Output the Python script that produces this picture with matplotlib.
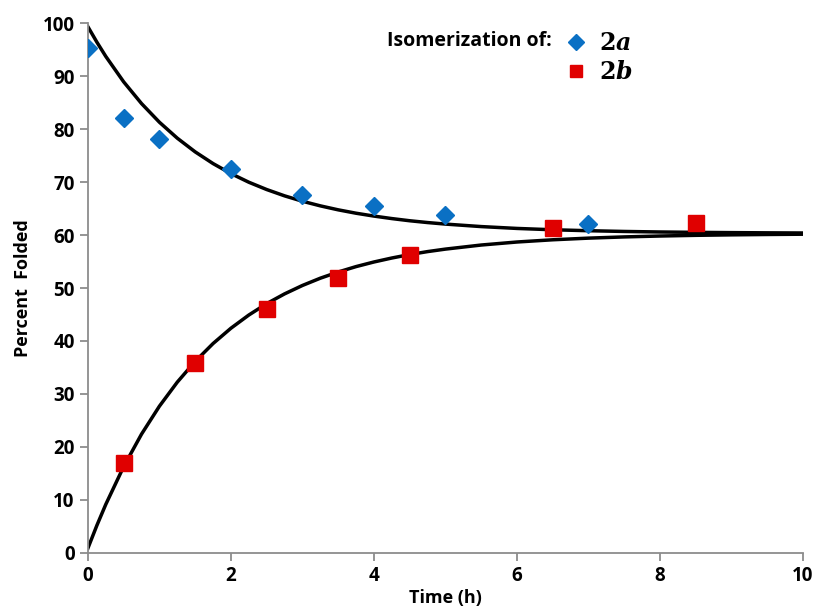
import matplotlib
matplotlib.use("Agg")
import matplotlib.pyplot as plt

# measured points
time_2a = [0, 0.5, 1, 2, 3, 4, 5, 7]
folded_2a = [95.3, 82.0, 78.2, 72.5, 67.6, 65.4, 63.7, 62.1]
time_2b = [0.5, 1.5, 2.5, 3.5, 4.5, 6.5, 8.5]
folded_2b = [17.0, 35.8, 46.0, 51.8, 56.2, 61.3, 62.2]

# fitted curves
fit_t = [0, 0.125, 0.25, 0.5, 0.75, 1, 1.25, 1.5, 1.75, 2, 2.25, 2.5, 2.75, 3,
         3.25, 3.5, 3.75, 4, 4.25, 4.5, 4.75, 5, 5.5, 6, 6.5, 7, 7.5, 8, 8.5,
         9, 9.5, 10]
fit_2a = [99.3, 96.4, 93.7, 88.9, 84.8, 81.28, 78.27, 75.69, 73.48, 71.59,
          69.96, 68.58, 67.39, 66.37, 65.5, 64.75, 64.11, 63.57, 63.1, 62.69,
          62.35, 62.06, 61.59, 61.24, 60.99, 60.81, 60.67, 60.57, 60.5, 60.45,
          60.41, 60.38]
fit_2b = [0.9, 5.19, 9.17, 16.3, 22.43, 27.7, 32.24, 36.15, 39.52, 42.41,
          44.9, 47.05, 48.89, 50.48, 51.85, 53.02, 54.04, 54.91, 55.66, 56.31,
          56.87, 57.34, 58.11, 58.68, 59.1, 59.41, 59.64, 59.81, 59.94, 60.03,
          60.1, 60.15]

plt.rcParams['font.family'] = ['Open Sans', 'DejaVu Sans']
plt.rcParams['mathtext.fontset'] = 'dejavuserif'

fig = plt.figure(figsize=(8.14, 6.06), dpi=100)
ax = fig.add_axes([0.108, 0.0875, 0.8785, 0.8745])

ax.plot(fit_t, fit_2a, color='black', lw=2.5, zorder=2)
ax.plot(fit_t, fit_2b, color='black', lw=2.5, zorder=2)
ax.plot(time_2a, folded_2a, 'D', color='#0a70c4', ms=9, ls='none', zorder=3,
        label=r'$\mathbf{2}\mathbfit{a}$')
ax.plot(time_2b, folded_2b, 's', color='#e00000', ms=11, ls='none', zorder=3,
        label=r'$\mathbf{2}\mathbfit{b}$')

ax.set_xlim(0, 10)
ax.set_ylim(0, 100)
ax.set_xticks(range(0, 11, 2))
ax.set_yticks(range(0, 101, 10))
for side in ['top', 'right']:
    ax.spines[side].set_visible(False)
for side in ['left', 'bottom']:
    ax.spines[side].set_color('#8c8c8c')
    ax.spines[side].set_linewidth(1.3)
ax.tick_params(colors='#8c8c8c', width=1.3, length=6, labelcolor='black',
               labelsize=13.5)
for lab in ax.get_xticklabels() + ax.get_yticklabels():
    lab.set_fontweight('bold')

ax.set_xlabel('Time (h)', fontsize=13, fontweight='bold', labelpad=2)
ax.set_ylabel('Percent  Folded', fontsize=13, fontweight='bold', labelpad=8)

leg = ax.legend(loc='upper left', bbox_to_anchor=(0.636, 1.0), frameon=False,
                fontsize=17, handletextpad=0.0, labelspacing=0.2,
                markerscale=0.85, borderaxespad=0)
ax.text(0.649, 0.967, 'Isomerization of:', transform=ax.transAxes,
        fontsize=14, fontweight='bold', ha='right', va='center')

fig.savefig('out.png', dpi=100)
